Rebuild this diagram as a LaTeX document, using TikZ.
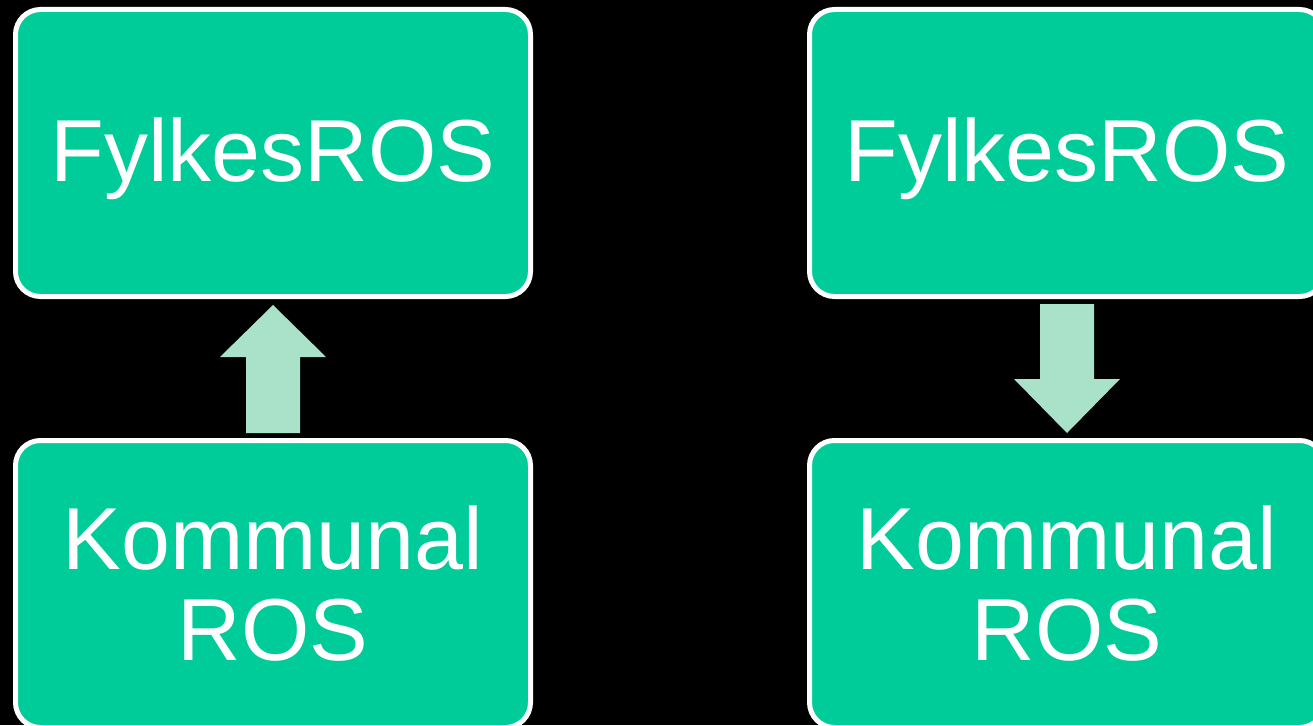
\documentclass[tikz,border=0pt]{standalone}
\usepackage{fontspec}
\setmainfont{Liberation Sans}
\usetikzlibrary{calc}
\definecolor{rosgreen}{RGB}{0,204,153}
\definecolor{arrowgreen}{RGB}{169,226,201}
\tikzset{
  rosbox/.style={draw=white, line width=5pt, fill=rosgreen, rounded corners=25pt,
    minimum width=515pt, minimum height=287pt, inner sep=0pt, text=white, align=center,
    font=\fontsize{88}{91}\selectfont},
  blockarrow/.style={fill=arrowgreen}
}
\begin{document}
\begin{tikzpicture}[x=1pt,y=-1pt]
  % Background
  \fill[black] (0,0) rectangle (1313,725);
  \useasboundingbox (0,0) rectangle (1313,725);

  % Left column
  \node[rosbox, text height=64pt, text depth=8pt] (fl) at (273,153) {FylkesROS};
  \node[rosbox] (kl) at (273,584) {Kommunal\\ROS};

  % Right column
  \node[rosbox, text height=64pt, text depth=8pt] (fr) at (1067,153) {FylkesROS};
  \node[rosbox] (kr) at (1067,584) {Kommunal\\ROS};

  % Up arrow
  \fill[blockarrow] ($(kl.north)+(-27,-5)$) -- ++(0,-76) -- ++(-26,0)
    -- ($(fl.south)+(0,6)$) -- ($(kl.north)+(53,-81)$) -- ++(-26,0)
    -- ++(0,76) -- cycle;

  % Down arrow
  \fill[blockarrow] ($(fr.south)+(-27,5)$) -- ++(0,75) -- ++(-26,0)
    -- ($(kr.north)+(0,-5)$) -- ($(fr.south)+(53,80)$) -- ++(-26,0)
    -- ++(0,-75) -- cycle;
\end{tikzpicture}
\end{document}
